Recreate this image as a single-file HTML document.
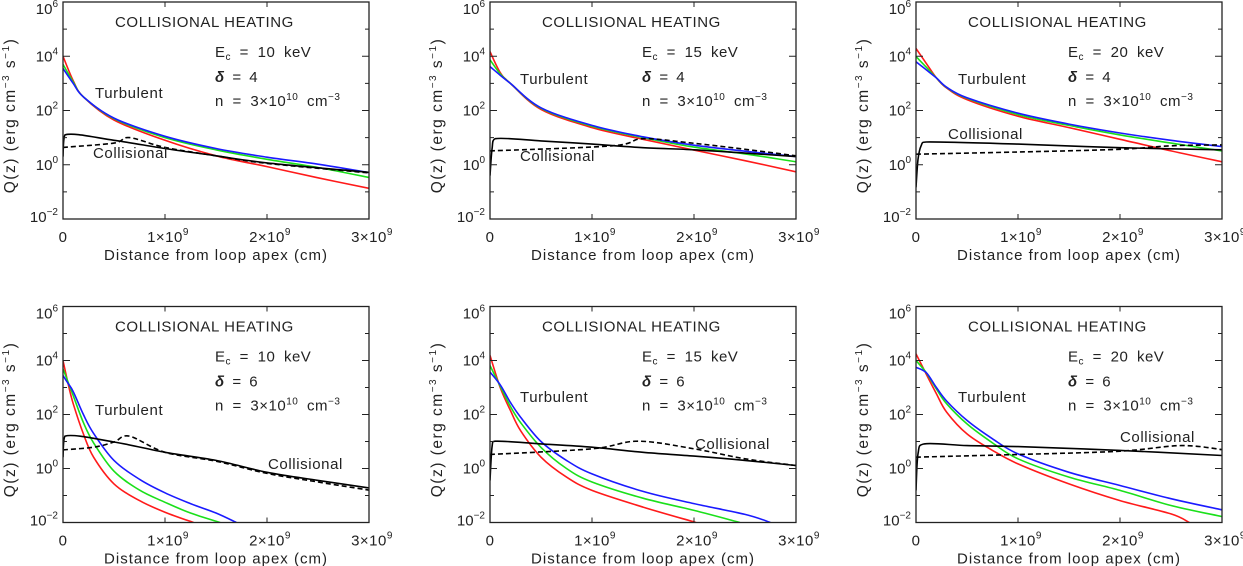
<!DOCTYPE html>
<html><head><meta charset="utf-8">
<style>
html,body{margin:0;padding:0;background:#fff;}
svg{display:block;font-family:"Liberation Sans",sans-serif;}
text{fill:#222;}
</style></head>
<body>
<svg id="fig" width="1243" height="566" viewBox="0 0 1243 566" xmlns="http://www.w3.org/2000/svg"></svg>
<script>
// Panel 1: Ec=10, delta=4  (x in 1e9 cm, y = log10 Q)
const p1RedX=[0,0.1,0.2,0.5,1.0,1.5,2.0,2.5,3.0];
const p1RedY=[4.0,3.1,2.5,1.65,0.9,0.33,-0.07,-0.48,-0.87];
const p1GreenX=[0,0.1,0.2,0.5,1.0,1.5,2.0,2.5,3.0];
const p1GreenY=[3.7,3.05,2.5,1.7,1.0,0.55,0.2,-0.1,-0.47];
const p1BlueX=[0,0.1,0.2,0.5,1.0,1.5,2.0,2.5,3.0];
const p1BlueY=[3.55,3.0,2.5,1.72,1.05,0.6,0.28,0.02,-0.29];
const p1SolidX=[0,0.02,0.5,1.0,1.5,2.0,3.0];
const p1SolidY=[0.3,1.1,0.9,0.6,0.33,0.07,-0.28];
const p1DashX=[0,0.5,0.65,1.0,1.5,2.0,3.0];
const p1DashY=[0.64,0.8,1.0,0.64,0.33,0.05,-0.3];
// Panel 2: Ec=15, delta=4
const p2RedX=[0,0.1,0.2,0.5,1.0,1.5,2.0,2.5,3.0];
const p2RedY=[4.17,3.4,3.0,2.04,1.37,0.94,0.54,0.15,-0.26];
const p2GreenX=[0,0.1,0.2,0.5,1.0,1.5,2.0,2.5,3.0];
const p2GreenY=[3.87,3.35,3.0,2.08,1.42,1.0,0.65,0.4,0.11];
const p2BlueX=[0,0.1,0.2,0.5,1.0,1.5,2.0,2.5,3.0];
const p2BlueY=[3.62,3.3,3.0,2.1,1.45,1.03,0.72,0.5,0.3];
const p2SolidX=[0,0.02,0.05,0.5,1.0,1.5,2.0,2.5,3.0];
const p2SolidY=[-0.4,0.57,0.96,0.88,0.76,0.63,0.55,0.43,0.3];
const p2DashX=[0,1.2,1.5,2.0,2.5,3.0];
const p2DashY=[0.51,0.7,0.96,0.79,0.57,0.33];
// Panel 3: Ec=20, delta=4
const p3RedX=[0,0.1,0.2,0.3,0.5,1.0,1.5,2.0,2.5,3.0];
const p3RedY=[4.29,3.74,3.2,2.83,2.4,1.79,1.37,0.94,0.51,0.11];
const p3GreenX=[0,0.1,0.2,0.3,0.5,1.0,1.5,2.0,2.5,3.0];
const p3GreenY=[3.99,3.6,3.2,2.85,2.45,1.85,1.45,1.1,0.8,0.51];
const p3BlueX=[0,0.1,0.2,0.3,0.5,1.0,1.5,2.0,2.5,3.0];
const p3BlueY=[3.8,3.5,3.2,2.86,2.47,1.9,1.5,1.17,0.9,0.67];
const p3SolidX=[0,0.02,0.05,0.1,1.0,2.0,3.0];
const p3SolidY=[-0.83,0.2,0.7,0.84,0.76,0.63,0.55];
const p3DashX=[0,1.0,2.0,2.5,3.0];
const p3DashY=[0.39,0.47,0.57,0.7,0.73];
// Panel 4: Ec=10, delta=6
const p4RedX=[0,0.05,0.1,0.2,0.3,0.5,0.75,1.0,1.28];
const p4RedY=[4.0,3.14,2.4,1.28,0.42,-0.57,-1.19,-1.62,-2.0];
const p4GreenX=[0,0.05,0.1,0.2,0.3,0.5,0.75,1.0,1.25,1.54];
const p4GreenY=[3.69,3.2,2.7,1.7,0.95,-0.1,-0.8,-1.25,-1.65,-2.0];
const p4BlueX=[0,0.05,0.1,0.2,0.3,0.5,0.75,1.0,1.25,1.5,1.7];
const p4BlueY=[3.44,3.15,2.85,2.0,1.3,0.3,-0.4,-0.9,-1.3,-1.65,-2.0];
const p4SolidX=[0,0.02,0.5,1.0,1.5,2.0,2.5,3.0];
const p4SolidY=[0.42,1.2,0.98,0.6,0.3,-0.14,-0.44,-0.72];
const p4DashX=[0,0.3,0.5,0.65,1.0,1.5,2.0,2.5,3.0];
const p4DashY=[0.69,0.79,0.98,1.2,0.6,0.27,-0.18,-0.5,-0.8];
// Panel 5: Ec=15, delta=6
const p5RedX=[0,0.1,0.2,0.3,0.5,0.75,1.0,1.5,2.02];
const p5RedY=[4.19,3.0,2.15,1.4,0.42,-0.32,-0.81,-1.43,-2.0];
const p5GreenX=[0,0.1,0.2,0.3,0.5,0.75,1.0,1.5,2.0,2.45];
const p5GreenY=[3.81,3.05,2.3,1.7,0.78,0.0,-0.5,-1.1,-1.55,-2.0];
const p5BlueX=[0,0.1,0.2,0.3,0.5,0.75,1.0,1.5,2.0,2.5,2.75];
const p5BlueY=[3.57,3.1,2.45,1.9,1.0,0.3,-0.2,-0.85,-1.3,-1.7,-2.0];
const p5SolidX=[0,0.02,0.05,0.5,1.0,1.5,2.0,2.5,3.0];
const p5SolidY=[-0.44,0.79,1.01,0.91,0.79,0.6,0.46,0.3,0.11];
const p5DashX=[0,1.0,1.45,2.0,2.5,3.0];
const p5DashY=[0.52,0.73,1.01,0.73,0.36,0.11];
// Panel 6: Ec=20, delta=6
const p6RedX=[0,0.1,0.2,0.3,0.5,0.75,1.0,1.5,2.0,2.5,2.68];
const p6RedY=[4.25,3.5,2.77,2.09,1.28,0.67,0.17,-0.57,-1.19,-1.68,-2.0];
const p6GreenX=[0,0.1,0.2,0.3,0.5,0.75,1.0,1.5,2.0,2.5,3.0];
const p6GreenY=[4.0,3.55,2.95,2.4,1.65,0.95,0.36,-0.32,-0.81,-1.37,-1.78];
const p6BlueX=[0,0.1,0.2,0.3,0.5,0.75,1.0,1.5,2.0,2.5,3.0];
const p6BlueY=[3.75,3.55,3.0,2.5,1.78,1.1,0.54,-0.14,-0.63,-1.12,-1.53];
const p6SolidX=[0,0.02,0.08,0.5,1.0,2.0,3.0];
const p6SolidY=[-0.81,0.54,0.91,0.85,0.81,0.67,0.48];
const p6DashX=[0,1.0,2.0,2.6,3.0];
const p6DashY=[0.42,0.52,0.64,0.85,0.7];

const panelEc=["10","15","20","10","15","20"];
const panelDelta=["4","4","4","6","6","6"];
const xTickVals=[0,1,2,3];
const xTickLabels=["0","1×10","2×10","3×10"];
const yTickVals=[-2,0,2,4,6];

const NS="http://www.w3.org/2000/svg";
const svg=document.getElementById('fig');
function mk(tag,attrs,parent){const e=document.createElementNS(NS,tag);for(const k in attrs)e.setAttribute(k,attrs[k]);(parent||svg).appendChild(e);return e;}
function smoothPath(pts){
  if(pts.length<3){return pts.map((p,i)=>(i?'L':'M')+p[0].toFixed(1)+','+p[1].toFixed(1)).join('');}
  let d='M'+pts[0][0].toFixed(1)+','+pts[0][1].toFixed(1);
  for(let i=0;i<pts.length-1;i++){
    const p0=pts[Math.max(0,i-1)],p1=pts[i],p2=pts[i+1],p3=pts[Math.min(pts.length-1,i+2)];
    const t=1/6;
    let c1=[p1[0]+(p2[0]-p0[0])*t,p1[1]+(p2[1]-p0[1])*t];
    let c2=[p2[0]-(p3[0]-p1[0])*t,p2[1]-(p3[1]-p1[1])*t];
    c1[0]=Math.min(Math.max(c1[0],p1[0]),p2[0]);c2[0]=Math.min(Math.max(c2[0],p1[0]),p2[0]);
    d+='C'+c1[0].toFixed(1)+','+c1[1].toFixed(1)+' '+c2[0].toFixed(1)+','+c2[1].toFixed(1)+' '+p2[0].toFixed(1)+','+p2[1].toFixed(1);
  }
  return d;
}

const colsX=[[63,369],[490,796],[916,1222]];
const rowsY=[[2,219],[306.5,522.5]];
const series=[
 [[p1RedX,p1RedY],[p1GreenX,p1GreenY],[p1BlueX,p1BlueY],[p1SolidX,p1SolidY],[p1DashX,p1DashY]],
 [[p2RedX,p2RedY],[p2GreenX,p2GreenY],[p2BlueX,p2BlueY],[p2SolidX,p2SolidY],[p2DashX,p2DashY]],
 [[p3RedX,p3RedY],[p3GreenX,p3GreenY],[p3BlueX,p3BlueY],[p3SolidX,p3SolidY],[p3DashX,p3DashY]],
 [[p4RedX,p4RedY],[p4GreenX,p4GreenY],[p4BlueX,p4BlueY],[p4SolidX,p4SolidY],[p4DashX,p4DashY]],
 [[p5RedX,p5RedY],[p5GreenX,p5GreenY],[p5BlueX,p5BlueY],[p5SolidX,p5SolidY],[p5DashX,p5DashY]],
 [[p6RedX,p6RedY],[p6GreenX,p6GreenY],[p6BlueX,p6BlueY],[p6SolidX,p6SolidY],[p6DashX,p6DashY]]
];
const sNames=['red-curve','green-curve','blue-curve','collisional-solid-curve','collisional-dashed-curve'];
const sColors=['#ff1a1a','#1ae01a','#1a1aff','#000','#000'];
const turbPos=[[95,98],[520,84],[958,84],[95,415],[520,402],[958,402]];
const collPos=[[93,158],[520,161],[948,139],[268,469],[695,449],[1120,442]];

for(let p=0;p<6;p++){
  const c=p%3,r=Math.floor(p/3);
  const [x0,x1]=colsX[c],[y0,y1]=rowsY[r];
  const sx=v=>x0+(v/3)*(x1-x0);
  const sy=v=>y1-((v+2)/8)*(y1-y0);
  const g=mk('g',{});
  
  
  const cp=mk('clipPath',{id:'cp'+p},g);
  mk('rect',{x:x0,y:y0,width:x1-x0,height:y1-y0},cp);
  series[p].forEach((s,i)=>{
    const [xs,ys]=s;
    const pts=xs.map((x,k)=>[sx(x),sy(ys[k])]);
    const path=mk('path',{d:smoothPath(pts),fill:'none',stroke:sColors[i],'stroke-width':1.6,'clip-path':'url(#cp'+p+')'},g);
    if(i===4)path.setAttribute('stroke-dasharray','5,3');
    
    
  });
  const fr=mk('rect',{x:x0,y:y0,width:x1-x0,height:y1-y0,fill:'none',stroke:'#222','stroke-width':1.3},g);
  
  
  for(let v=-2;v<=6;v++){
    const yy=sy(v),len=(v%2===0)?7:4;
    mk('line',{x1:x0,y1:yy,x2:x0+len,y2:yy,stroke:'#222','stroke-width':1},g);
    mk('line',{x1:x1,y1:yy,x2:x1-len,y2:yy,stroke:'#222','stroke-width':1},g);
  }
  yTickVals.forEach(v=>{
    const off=(v===6)?12:(v===-2?3:5);
    const t=mk('text',{x:x0-5,y:sy(v)+off,'text-anchor':'end','font-size':15},g);
    
    
    t.textContent='10';
    const sup=mk('tspan',{dy:-7,'font-size':10},t);sup.textContent=(v<0?'−':'')+Math.abs(v);
  });
  xTickVals.forEach((v,i)=>{
    const xx=sx(v);
    mk('line',{x1:xx,y1:y1,x2:xx,y2:y1-5,stroke:'#222','stroke-width':1},g);
    mk('line',{x1:xx,y1:y0,x2:xx,y2:y0+5,stroke:'#222','stroke-width':1},g);
    const t=mk('text',{x:xx+(i===0?0:3),y:y1+23,'text-anchor':'middle','font-size':15,'letter-spacing':0.5},g);
    
    
    t.textContent=xTickLabels[i];
    if(i>0){const sup=mk('tspan',{dy:-7,'font-size':10},t);sup.textContent='9';}
  });
  const xt=mk('text',{x:(x0+x1)/2,y:y1+41,'text-anchor':'middle','font-size':15,'letter-spacing':1},g);
  
  
  xt.textContent='Distance from loop apex (cm)';
  const ycx=x0-48, ycy=(y0+y1)/2+5;
  const yt=mk('text',{x:ycx,y:ycy,'text-anchor':'middle','font-size':15.5,'letter-spacing':1.5,transform:'rotate(-90 '+ycx+' '+ycy+')'},g);
  
  
  yt.innerHTML='Q(z) (erg cm<tspan dy="-6" font-size="10">−3</tspan><tspan dy="6"> s</tspan><tspan dy="-6" font-size="10">−1</tspan><tspan dy="6">)</tspan>';
  const a1=mk('text',{x:x0+52,y:y0+25,'font-size':15,'letter-spacing':0.6},g);
  
  
  a1.textContent='COLLISIONAL HEATING';
  const a2=mk('text',{x:x0+152,y:y0+55,'font-size':15,'word-spacing':4,'letter-spacing':0.5},g);
  
  
  a2.innerHTML='E<tspan dy="3" font-size="10">c</tspan><tspan dy="-3"> = '+panelEc[p]+' keV</tspan>';
  const a3=mk('text',{x:x0+152,y:y0+80,'font-size':15,'word-spacing':4},g);
  
  
  a3.innerHTML='<tspan font-weight="bold" font-style="italic">δ</tspan> = '+panelDelta[p];
  const a4=mk('text',{x:x0+152,y:y0+104,'font-size':15,'word-spacing':4,'letter-spacing':0.5},g);
  
  
  a4.innerHTML='n = 3×10<tspan dy="-6" font-size="10">10</tspan><tspan dy="6"> cm</tspan><tspan dy="-6" font-size="10">−3</tspan>';
  const tl=mk('text',{x:turbPos[p][0],y:turbPos[p][1],'font-size':15,'letter-spacing':0.6},g);
  
  
  tl.textContent='Turbulent';
  const cl=mk('text',{x:collPos[p][0],y:collPos[p][1],'font-size':15,'letter-spacing':0.6},g);
  
  
  cl.textContent='Collisional';
}
</script>
</body></html>
